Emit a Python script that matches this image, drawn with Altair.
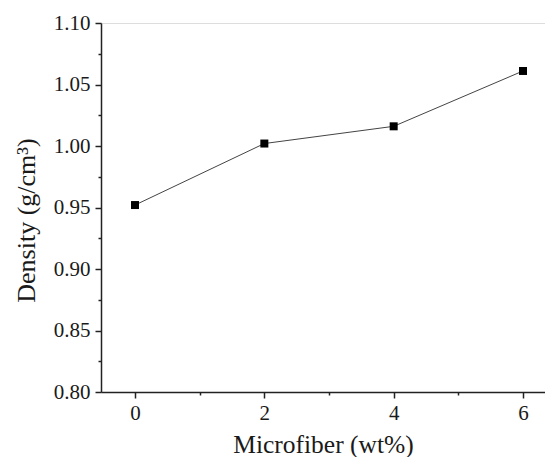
import altair as alt
import pandas as pd

# Data
microfiber = [0, 2, 4, 6]
density = [0.952, 1.002, 1.016, 1.061]

x_major = [0, 2, 4, 6]
x_minor = [1, 3, 5]
y_major = [0.80, 0.85, 0.90, 0.95, 1.00, 1.05, 1.10]
y_minor = [0.825, 0.875, 0.925, 0.975, 1.025, 1.075]

df = pd.DataFrame({"x": microfiber, "y": density})

FONT = "Liberation Serif, Times New Roman, serif"
TXT = "#1a1a1a"
AX = "#222222"

xs = alt.Scale(domain=[-0.526, 6.34], nice=False, zero=False)
ys = alt.Scale(domain=[0.80, 1.10], nice=False, zero=False)

x_axis = alt.Axis(values=x_major, format="d", title="Microfiber (wt%)", orient="bottom",
                  tickSize=6, labelPadding=4, titlePadding=9, grid=False,
                  labelFont=FONT, titleFont=FONT, labelFontSize=21, titleFontSize=25.5,
                  titleFontWeight="normal", labelColor=TXT, titleColor=TXT,
                  domainColor=AX, tickColor=AX, domainWidth=1.5, tickWidth=1.5)
y_axis = alt.Axis(values=y_major, format=".2f", title="Density (g/cm³)", orient="left",
                  tickSize=6, labelPadding=5, titlePadding=14, titleY=197, grid=False,
                  labelFont=FONT, titleFont=FONT, labelFontSize=21, titleFontSize=26,
                  titleFontWeight="normal", labelColor=TXT, titleColor=TXT,
                  domainColor=AX, tickColor=AX, domainWidth=1.5, tickWidth=1.5)

x_axis_minor = alt.Axis(values=x_minor, orient="bottom", labels=False, title=None, domain=False,
                        grid=False, tickSize=3, tickColor=AX, tickWidth=1.5)
y_axis_minor = alt.Axis(values=y_minor, orient="left", labels=False, title=None, domain=False,
                        grid=False, tickSize=3, tickColor=AX, tickWidth=1.5)

line = alt.Chart(df).mark_line(color="#444444", strokeWidth=1).encode(
    x=alt.X("x:Q", scale=xs, axis=x_axis),
    y=alt.Y("y:Q", scale=ys, axis=y_axis),
)
points = alt.Chart(df).mark_square(size=64, color="#000000", opacity=1).encode(
    x=alt.X("x:Q", scale=xs, axis=None),
    y=alt.Y("y:Q", scale=ys, axis=None),
)
minor = alt.Chart(df).mark_point(opacity=0).encode(
    x=alt.X("x:Q", scale=xs, axis=x_axis_minor),
    y=alt.Y("y:Q", scale=ys, axis=y_axis_minor),
)

chart = alt.layer(line, points, minor).resolve_axis(
    x="independent", y="independent"
).properties(
    width=444, height=369,
    padding={"left": 93, "top": 15, "right": 0, "bottom": 65},
    autosize="none",
).configure_view(stroke=None).configure(background="white")

chart.save("out.html", embed_options={"renderer": "svg", "actions": False})
